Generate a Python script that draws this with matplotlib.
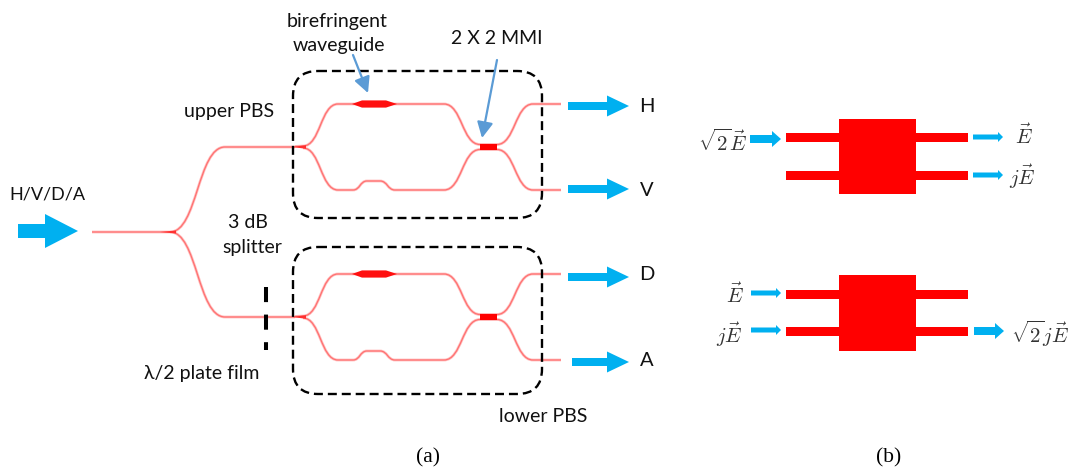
import matplotlib
matplotlib.use("Agg")
import matplotlib.pyplot as plt
from matplotlib.path import Path
from matplotlib.patches import PathPatch, FancyBboxPatch, Polygon, Rectangle

plt.rcParams['mathtext.fontset'] = 'cm'

# PBS vertical offsets: upper and lower copies of the circuit
pbs_offsets = [0, 170]
# Output / input arrows: (x0, x1, y)
output_arrows = [(568, 629, 106), (568, 629, 189), (568, 629, 277), (572, 629, 362)]
output_labels = [("H", 647, 106), ("V", 647, 190), ("D", 647, 275), ("A", 647, 360)]
thick_b_arrows = [(750, 781, 139), (974, 1004, 331)]
thin_b_arrows = [(973, 1003, 137), (973, 1003, 175), (751, 781, 293), (751, 781, 330)]
# Panel (b) block tops
block_tops = [119, 275]
block_heights = [75, 76]
arm_rows = [(133, 171), (290, 327)]
text_labels = [
    ("birefringent", 337, 21, 14), ("waveguide", 339, 46, 14), ("2 X 2 MMI", 497, 38, 14),
    ("upper PBS", 229, 111, 14), ("H/V/D/A", 47, 194, 13), ("3 dB", 248, 222, 14),
    ("splitter", 252, 248, 14), ("λ/2 plate film", 202, 374, 14), ("lower PBS", 543, 417, 14),
]
math_labels = [
    (r"$\sqrt{2}\vec{E}$", 723, 142), (r"$\vec{E}$", 1024, 136), (r"$j\vec{E}$", 1022, 177),
    (r"$\vec{E}$", 735, 295), (r"$j\vec{E}$", 729, 335), (r"$\sqrt{2}j\vec{E}$", 1040, 334),
]

fig = plt.figure(figsize=(10.7, 4.7), dpi=100)
ax = fig.add_axes([0, 0, 1, 1])
ax.set_xlim(0, 1070)
ax.set_ylim(470, 0)
ax.axis("off")

BLUE = "#00B0F0"
STEEL = "#5B9BD5"
TEXT_FONT = ["Lato", "DejaVu Sans"]


def wave(segments):
    """segments: start point, then tuples; length 2=line, length 6=cubic."""
    verts, codes = [segments[0]], [Path.MOVETO]
    for s in segments[1:]:
        if len(s) == 2:
            verts.append(s)
            codes.append(Path.LINETO)
        else:
            verts += [(s[0], s[1]), (s[2], s[3]), (s[4], s[5])]
            codes += [Path.CURVE4] * 3
    p = Path(verts, codes)
    ax.add_patch(PathPatch(p, fc="none", ec="#FFC0C0", lw=2.0, capstyle="butt", zorder=2))
    ax.add_patch(PathPatch(p, fc="none", ec="#FF7070", lw=0.9, capstyle="butt", zorder=2.1))


def s_curve(x0, y0, x1, y1):
    xm = (x1 - x0) * 0.5
    return (x0 + xm, y0, x1 - xm, y1, x1, y1)


def arrow(x0, x1, y, tail_h, head_h, head_l, color=BLUE):
    ax.add_patch(Polygon([(x0, y - tail_h / 2), (x1 - head_l, y - tail_h / 2), (x1 - head_l, y - head_h / 2),
                          (x1, y), (x1 - head_l, y + head_h / 2), (x1 - head_l, y + tail_h / 2),
                          (x0, y + tail_h / 2)], closed=True, fc=color, ec="none", zorder=4))


# splitter
wave([(92, 232), (170, 232), s_curve(170, 232, 225, 147), (295, 147)])
wave([(170, 232), s_curve(170, 232, 225, 317), (295, 317)])
ax.add_patch(Polygon([(160, 232), (176, 230.5), (176, 233.5)], fc="#FF3030", ec="none", zorder=3))

for off in pbs_offsets:
    yn = 147 + off
    ym = 147 + off
    top = 104 + off
    bot = 190 + off
    # upper arm
    wave([(295, yn - 0.5), (303, yn - 1), s_curve(303, yn - 1, 338, top), (444, top),
          s_curve(444, top, 480, ym - 2.5), (497, ym - 2.5), s_curve(497, ym - 2.5, 533, top), (561, top)])
    # lower arm
    wave([(303, yn + 1), s_curve(303, yn + 1, 338, bot), (353, bot), s_curve(353, bot, 367, bot - 9), (380, bot - 9),
          s_curve(380, bot - 9, 395, bot), (444, bot), s_curve(444, bot, 480, ym + 2.5), (497, ym + 2.5),
          s_curve(497, ym + 2.5, 533, bot), (561, bot)])
    # Y junction
    ax.add_patch(Polygon([(292, yn), (306, yn - 1.8), (306, yn + 1.8)], fc="#FF3030", ec="none", zorder=3))
    # birefringent section
    ax.add_patch(Polygon([(352, top), (362, top - 3.6), (386, top - 3.6), (397, top),
                          (386, top + 3.6), (362, top + 3.6)], fc="#FF1010", ec="none", zorder=3))
    # MMI
    ax.add_patch(Rectangle((480, ym - 3), 17, 6, fc="#FF0000", ec="none", zorder=3))

# PBS boxes
for y0, h in [(71, 147), (247, 147)]:
    ax.add_patch(FancyBboxPatch((293 + 25, y0 + 25), 249 - 50, h - 50, boxstyle="round,pad=25,rounding_size=25",
                                fc="none", ec="black", lw=1.7, ls=(0, (3.8, 2.1)), zorder=5))

# half-wave plate
ax.plot([266, 266], [287, 350], color="black", lw=2.9, ls=(0, (3.75, 3.1)), zorder=5)

# arrows (a)
arrow(18, 78, 231, 14, 34, 33)
for x0, x1, y in output_arrows:
    arrow(x0, x1, y, 8, 21, 22)
for x0, x1, y0, y1 in [(353, 368, 55, 93), (497, 482, 60, 138)]:
    ax.annotate("", xy=(x1, y1), xytext=(x0, y0),
                arrowprops=dict(arrowstyle="-|>,head_width=0.48,head_length=0.95", color=STEEL, lw=1.6,
                                shrinkA=0, shrinkB=0), zorder=6)

# panel (b)
for top, h, (r1, r2) in zip(block_tops, block_heights, arm_rows):
    ax.add_patch(Rectangle((839, top), 77, h, fc="#FF0000", ec="none", zorder=3))
    for r in (r1, r2):
        ax.add_patch(Rectangle((786, r), 182, 9, fc="#FF0000", ec="none", zorder=3))
for x0, x1, y in thick_b_arrows:
    arrow(x0, x1, y, 8, 16, 9)
for x0, x1, y in thin_b_arrows:
    arrow(x0, x1, y, 5, 10, 5)

for t, x, y, fs in text_labels:
    ax.text(x, y, t, ha="center", va="center", fontsize=fs, family=TEXT_FONT, color="#111111")
for t, x, y in output_labels:
    ax.text(x, y, t, ha="center", va="center", fontsize=14.5, family=TEXT_FONT, color="#111111")
for t, x, y in math_labels:
    ax.text(x, y, t, ha="center", va="center", fontsize=15, color="#333333")
ax.text(428, 458, "(a)", ha="center", va="center", fontsize=15.5, family="Liberation Serif")
ax.text(889, 458, "(b)", ha="center", va="center", fontsize=15.5, family="Liberation Serif")

fig.savefig("out.png", dpi=100)
